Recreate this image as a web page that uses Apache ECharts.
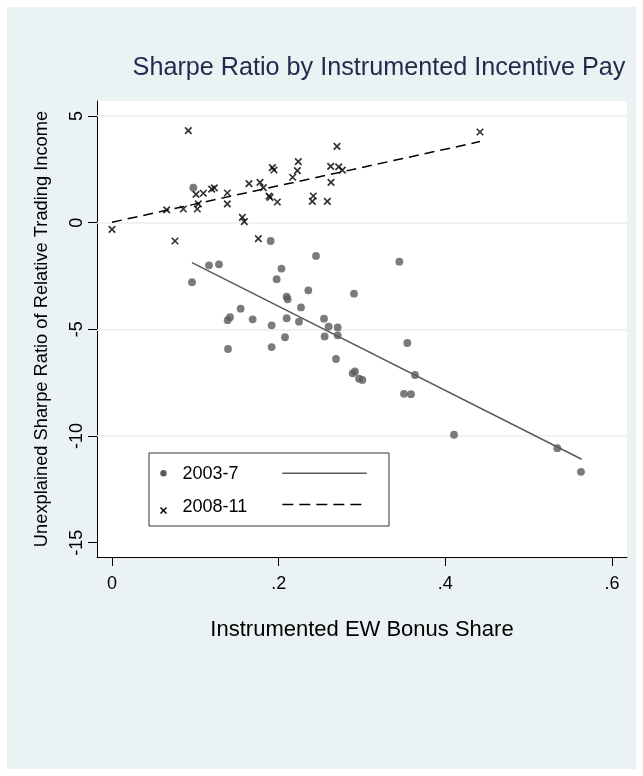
<!DOCTYPE html>
<html>
<head>
<meta charset="utf-8">
<script src="https://cdn.jsdelivr.net/npm/echarts@6/dist/echarts.min.js"></script>
<style>
html,body{margin:0;padding:0;background:#ffffff;}
#chart{position:absolute;left:7px;top:7px;width:629px;height:762px;}
</style>
</head>
<body>
<div id="chart"></div>
<script>
// ---- data ----
const titleText = 'Sharpe Ratio by Instrumented Incentive Pay';
const xAxisTitle = 'Instrumented EW Bonus Share';
const yAxisTitle = 'Unexplained Sharpe Ratio of Relative Trading Income';
const seriesNames = ['2003-7', '2008-11'];

const xTicks = [0, 0.2, 0.4, 0.6];
const yTicks = [-15, -10, -5, 0, 5];
const yGridLines = [-10, -5, 0, 5];

// 2003-7 (filled circles)
const x2003 = [0.0976,0.1904,0.2448,0.1164,0.1284,0.0960,0.2034,0.1976,0.2356,0.2904,
               0.2096,0.2108,0.2268,0.1544,0.1416,0.1388,0.1688,0.2096,0.2244,0.1916,
               0.2544,0.2600,0.2708,0.2708,0.2552,0.2076,0.1392,0.1916,0.2688,0.2888,
               0.2916,0.2964,0.3004,0.3448,0.3544,0.3636,0.3504,0.3588,0.4104,0.5344,0.5628];
const y2003 = [1.64,-0.86,-1.56,-2.00,-1.95,-2.79,-2.15,-2.65,-3.17,-3.33,
               -3.47,-3.59,-3.97,-4.03,-4.43,-4.57,-4.53,-4.48,-4.64,-4.81,
               -4.50,-4.87,-4.91,-5.28,-5.33,-5.37,-5.92,-5.83,-6.39,-7.06,
               -6.97,-7.31,-7.37,-1.83,-5.64,-7.14,-8.02,-8.04,-9.94,-10.57,-11.68];

// 2008-11 (crosses)
const x2008 = [0.0000,0.0916,0.0756,0.0656,0.0856,0.1008,0.1036,0.1024,0.1096,0.1196,
               0.1228,0.1384,0.1384,0.1564,0.1588,0.1644,0.1756,0.1776,0.1816,0.1884,
               0.1896,0.1984,0.1924,0.1944,0.2168,0.2224,0.2236,0.2416,0.2404,0.2584,
               0.2628,0.2624,0.2700,0.2720,0.2764,0.4416];
const y2008 = [-0.31,4.31,-0.86,0.60,0.64,1.33,0.88,0.64,1.38,1.57,
               1.63,1.39,0.88,0.25,0.05,1.83,-0.75,1.89,1.64,1.25,
               1.19,0.97,2.58,2.47,2.13,2.44,2.86,1.25,1.00,1.00,
               1.89,2.64,3.58,2.62,2.46,4.25];

// fitted lines (end points)
const fit2003X = [0.096, 0.5636];
const fit2003Y = [-1.87, -11.09];
const fit2008X = [0.0, 0.4416];
const fit2008Y = [0.02, 3.80];

// ---- build ----
const zip = (xs, ys) => xs.map((x, i) => [x, ys[i]]);
const crossPath = 'path://M0,0L10,10M10,0L0,10';
const fmtX = v => (v === 0 ? '0' : String(+v.toFixed(1)).replace(/^0/, '').replace(/^-0/, '-'));

const chart = echarts.init(document.getElementById('chart'));
const font = '"Liberation Sans", Arial, sans-serif';

const option = {
  backgroundColor: '#EAF2F3',
  animation: false,
  textStyle: { fontFamily: font },
  title: {
    text: titleText,
    left: 367, top: 44, textAlign: 'center',
    textStyle: { fontFamily: font, fontSize: 25.2, fontWeight: 'normal', color: '#1e2b4c' }
  },
  grid: {
    left: 90, top: 94, width: 530, height: 456,
    show: true, backgroundColor: '#ffffff', borderWidth: 0
  },
  xAxis: {
    type: 'value', min: -0.018, max: 0.618,
    name: xAxisTitle, nameLocation: 'middle', nameGap: 62,
    nameTextStyle: { fontFamily: font, fontSize: 22, color: '#000' },
    axisLine: { show: true, onZero: false, lineStyle: { color: '#000', width: 1 } },
    axisTick: { show: true, length: 9, inside: false, customValues: xTicks, lineStyle: { color: '#000', width: 1 } },
    axisLabel: { show: true, customValues: xTicks, formatter: fmtX, margin: 18, fontFamily: font, fontSize: 18, color: '#000' },
    splitLine: { show: false }
  },
  yAxis: {
    type: 'value', min: -15.67, max: 5.703,
    name: yAxisTitle, nameLocation: 'middle', nameGap: 46, nameRotate: 90,
    nameTextStyle: { fontFamily: font, fontSize: 18.3, color: '#000' },
    axisLine: { show: true, onZero: false, lineStyle: { color: '#000', width: 1 } },
    axisTick: { show: true, length: 9, inside: false, customValues: yTicks, lineStyle: { color: '#000', width: 1 } },
    axisLabel: { show: true, customValues: yTicks, rotate: 90, margin: 11, fontFamily: font, fontSize: 18, color: '#000' },
    splitLine: { show: false }
  },
  series: [
    {
      name: 'grid', type: 'line', data: [], silent: true,
      markLine: {
        silent: true, z: 1, symbol: ['none', 'none'], label: { show: false },
        lineStyle: { type: 'solid', color: '#E6EFF1', width: 1.5 },
        data: yGridLines.map(v => ({ yAxis: v }))
      }
    },
    {
      name: seriesNames[0], type: 'scatter', z: 3,
      data: zip(x2003, y2003), symbol: 'circle', symbolSize: 7.8,
      itemStyle: { color: '#5a5a5a' }
    },
    {
      name: seriesNames[1], type: 'scatter', z: 4,
      data: zip(x2008, y2008), symbol: crossPath, symbolSize: 6.5,
      itemStyle: { color: 'rgba(0,0,0,0)', borderColor: '#000', borderWidth: 1.7 }
    },
    {
      name: seriesNames[0] + ' fit', type: 'line', z: 2,
      data: zip(fit2003X, fit2003Y), symbol: 'none',
      lineStyle: { color: '#5a5a5a', width: 1.5, type: 'solid' }
    },
    {
      name: seriesNames[1] + ' fit', type: 'line', z: 2,
      data: zip(fit2008X, fit2008Y), symbol: 'none',
      lineStyle: { color: '#000', width: 1.5, type: [10, 6] }
    }
  ],
  graphic: [
    { type: 'rect', shape: { x: 142, y: 446, width: 240, height: 73 },
      style: { fill: '#ffffff', stroke: '#333', lineWidth: 1 }, z: 10 },
    { type: 'circle', shape: { cx: 156.5, cy: 466.3, r: 3.2 },
      style: { fill: '#5a5a5a' }, z: 11 },
    { type: 'line', shape: { x1: 153.5, y1: 500.5, x2: 159.5, y2: 506.5 },
      style: { stroke: '#000', lineWidth: 1.5 }, z: 11 },
    { type: 'line', shape: { x1: 159.5, y1: 500.5, x2: 153.5, y2: 506.5 },
      style: { stroke: '#000', lineWidth: 1.5 }, z: 11 },
    { type: 'text', x: 175.5, y: 467, z: 11,
      style: { text: seriesNames[0], font: '18px ' + font, fill: '#000', verticalAlign: 'middle' } },
    { type: 'text', x: 175.5, y: 500, z: 11,
      style: { text: seriesNames[1], font: '18px ' + font, fill: '#000', verticalAlign: 'middle' } },
    { type: 'line', shape: { x1: 275.3, y1: 466.3, x2: 359.7, y2: 466.3 },
      style: { stroke: '#5a5a5a', lineWidth: 1.5 }, z: 11 },
    { type: 'line', shape: { x1: 275.3, y1: 497.5, x2: 359.7, y2: 497.5 },
      style: { stroke: '#000', lineWidth: 1.5, lineDash: [11, 6] }, z: 11 }
  ]
};
chart.setOption(option);
</script>
</body>
</html>
